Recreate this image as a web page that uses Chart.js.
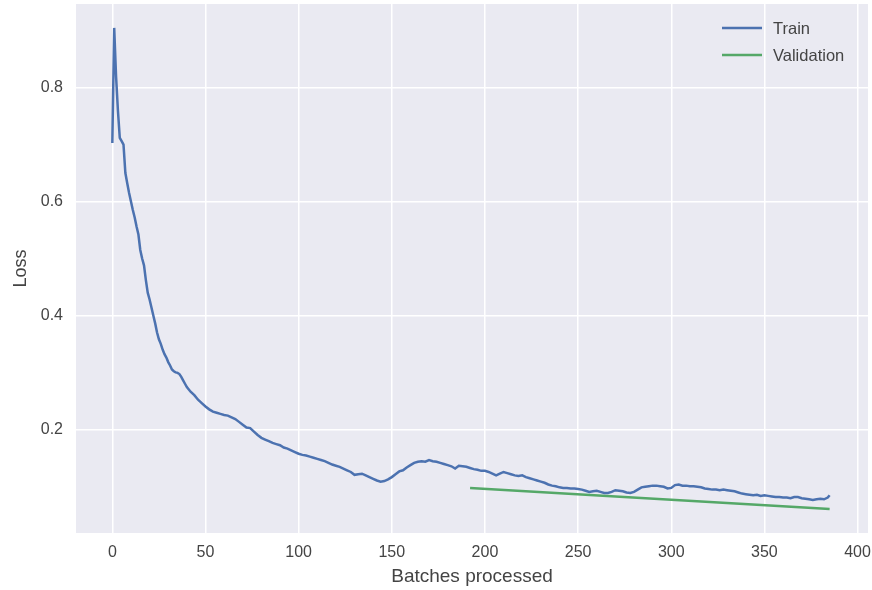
<!DOCTYPE html>
<html>
<head>
<meta charset="utf-8">
<script src="https://cdn.jsdelivr.net/npm/chart.js@4/dist/chart.umd.min.js"></script>
<style>
  html, body { margin: 0; padding: 0; background: #ffffff; }
  #wrap { width: 872px; height: 590px; }
</style>
</head>
<body>
<div id="wrap"><canvas id="c" width="872" height="590"></canvas></div>
<script>
const trainBatches = [
  0,1,2,3,4,5,6,7,8,9,10,11,12,13,14,15,16,17,18,19,20,
  21,22,23,24,25,26,27,28,29,30,31,32,33,34,35,36,37,38,39,40,
  42,44,46,48,50,52,54,56,58,60,62,64,66,68,70,72,74,76,78,80,
  82,84,86,88,90,92,94,96,98,100,102,104,106,108,110,112,114,116,118,120,
  122,124,126,128,130,132,134,136,138,140,142,144,146,148,150,152,154,156,158,160,
  162,164,166,168,170,172,174,176,178,180,182,184,186,188,190,192,194,196,198,200,
  202,204,206,208,210,212,214,216,218,220,222,224,226,228,230,232,234,236,238,240,
  242,244,246,248,250,252,254,256,258,260,262,264,266,268,270,272,274,276,278,280,
  282,284,286,288,290,292,294,296,298,300,302,304,306,308,310,312,314,316,318,320,
  322,324,326,328,330,332,334,336,338,340,342,344,346,348,350,352,354,356,358,360,
  362,364,366,368,370,372,374,376,378,380,382,384,385
];
const trainLoss = [
  0.703,0.905,0.820,0.760,0.712,0.706,0.700,0.650,0.632,0.615,0.600,
  0.585,0.572,0.556,0.542,0.515,0.500,0.488,0.462,0.440,0.428,
  0.414,0.400,0.386,0.370,0.358,0.350,0.340,0.332,0.326,0.318,
  0.312,0.305,0.302,0.300,0.299,0.297,0.292,0.286,0.280,0.274,
  0.266,0.260,0.252,0.246,0.240,0.235,0.231,0.229,0.227,0.225,0.224,0.221,0.218,0.213,0.208,0.203,0.202,0.196,0.190,0.185,
  0.182,0.179,0.176,0.174,0.172,0.168,0.166,0.163,0.160,0.157,0.155,0.154,0.152,0.150,0.148,0.146,0.144,0.141,0.138,0.136,
  0.134,0.131,0.128,0.125,0.120,0.121,0.122,0.119,0.116,0.113,0.110,0.108,0.109,0.112,0.116,0.121,0.126,0.128,0.133,0.137,
  0.141,0.143,0.144,0.143,0.146,0.144,0.143,0.141,0.139,0.137,0.135,0.131,0.136,0.135,0.134,0.132,0.130,0.129,0.127,0.127,
  0.125,0.122,0.119,0.122,0.125,0.123,0.121,0.119,0.118,0.119,0.116,0.114,0.112,0.110,0.108,0.106,0.103,0.101,0.100,0.098,
  0.097,0.097,0.096,0.096,0.095,0.094,0.092,0.090,0.091,0.092,0.090,0.088,0.088,0.090,0.093,0.092,0.091,0.089,0.088,0.090,
  0.094,0.098,0.099,0.100,0.101,0.101,0.100,0.099,0.096,0.097,0.102,0.103,0.101,0.101,0.100,0.100,0.099,0.098,0.096,0.095,
  0.094,0.094,0.093,0.094,0.093,0.092,0.091,0.089,0.087,0.086,0.085,0.084,0.085,0.083,0.084,0.083,0.082,0.081,0.081,0.080,
  0.080,0.079,0.081,0.081,0.079,0.078,0.077,0.076,0.077,0.078,0.077,0.080,0.084
];
const valBatches = [192, 385];
const valLoss = [0.097, 0.060];
const xTicks = [0, 50, 100, 150, 200, 250, 300, 350, 400];
const yTicks = [0.2, 0.4, 0.6, 0.8];
const seriesNames = ['Train', 'Validation'];
const seriesColors = ['#4C72B0', '#55A868'];

const FONT = "'Liberation Sans', Arial, sans-serif";
const TEXT = '#444444';

const bgPlugin = {
  id: 'plotBg',
  beforeDraw(chart) {
    const a = chart.chartArea, ctx = chart.ctx;
    ctx.save();
    ctx.fillStyle = '#EAEAF2';
    ctx.fillRect(a.left, a.top, a.right - a.left, a.bottom - a.top);
    ctx.restore();
  }
};

const legendPlugin = {
  id: 'innerLegend',
  afterDraw(chart) {
    const ctx = chart.ctx;
    ctx.save();
    ctx.font = '16.5px ' + FONT;
    ctx.textBaseline = 'middle';
    ctx.textAlign = 'left';
    chart.data.datasets.forEach((ds, i) => {
      const y = 28 + i * 27;
      ctx.strokeStyle = ds.borderColor;
      ctx.lineWidth = 2.5;
      ctx.beginPath();
      ctx.moveTo(722, y);
      ctx.lineTo(762, y);
      ctx.stroke();
      ctx.fillStyle = TEXT;
      ctx.fillText(ds.label, 773, y + 1);
    });
    ctx.restore();
  }
};

new Chart(document.getElementById('c'), {
  type: 'line',
  data: {
    datasets: [
      {
        label: seriesNames[0],
        data: trainBatches.map((b, i) => ({ x: b, y: trainLoss[i] })),
        borderColor: seriesColors[0],
        borderWidth: 2.5,
        pointRadius: 0,
        tension: 0,
        fill: false
      },
      {
        label: seriesNames[1],
        data: valBatches.map((b, i) => ({ x: b, y: valLoss[i] })),
        borderColor: seriesColors[1],
        borderWidth: 2.5,
        pointRadius: 0,
        tension: 0,
        fill: false
      }
    ]
  },
  options: {
    responsive: false,
    animation: false,
    devicePixelRatio: 1,
    layout: { padding: { left: 0, right: 4, top: 4, bottom: 0 } },
    plugins: {
      legend: { display: false },
      tooltip: { enabled: false }
    },
    scales: {
      x: {
        type: 'linear',
        min: -19.5,
        max: 405.6,
        afterBuildTicks: (s) => { s.ticks = xTicks.map(v => ({ value: v })); },
        afterFit: (s) => { s.height = 57; s.paddingLeft = 0; s.paddingRight = 0; },
        grid: { color: '#ffffff', lineWidth: 1.5, drawTicks: false },
        border: { display: false },
        ticks: { color: TEXT, font: { family: FONT, size: 16 }, padding: 10, maxRotation: 0 },
        title: { display: true, text: 'Batches processed', color: TEXT, font: { family: FONT, size: 19 }, padding: { top: 0, bottom: 2 } }
      },
      y: {
        type: 'linear',
        min: 0.0178,
        max: 0.947,
        afterBuildTicks: (s) => { s.ticks = yTicks.map(v => ({ value: v })); },
        afterFit: (s) => { s.width = 76; s.paddingTop = 0; s.paddingBottom = 0; },
        grid: { color: '#ffffff', lineWidth: 1.5, drawTicks: false },
        border: { display: false },
        ticks: { color: TEXT, font: { family: FONT, size: 16 }, padding: 13, callback: (v) => v.toFixed(1) },
        title: { display: true, text: 'Loss', color: TEXT, font: { family: FONT, size: 18 }, padding: { top: 10, bottom: 0 } }
      }
    }
  },
  plugins: [bgPlugin, legendPlugin]
});
</script>
</body>
</html>
